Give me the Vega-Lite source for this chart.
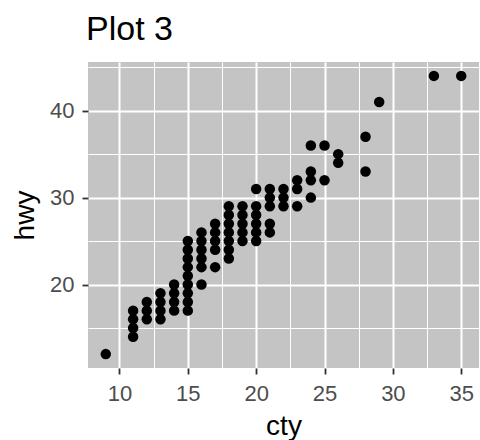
{
  "$schema": "https://vega.github.io/schema/vega-lite/v6.json",
  "width": 391,
  "height": 306,
  "autosize": "none",
  "padding": {"left": 88, "top": 62, "right": 1, "bottom": 72},
  "background": "white",
  "title": {"text": "Plot 3", "anchor": "start", "frame": "group", "font": "Liberation Sans", "fontSize": 34, "fontWeight": "normal", "color": "black", "baseline": "bottom", "offset": 16, "dy": 35, "dx": -2},
  "config": {"view": {"fill": "#C4C4C4", "stroke": null}},
  "data": {"values": [
    {"cty": 9, "hwy": 12},
    {"cty": 11, "hwy": 14}, {"cty": 11, "hwy": 15}, {"cty": 11, "hwy": 16}, {"cty": 11, "hwy": 17},
    {"cty": 12, "hwy": 16}, {"cty": 12, "hwy": 17}, {"cty": 12, "hwy": 18},
    {"cty": 13, "hwy": 16}, {"cty": 13, "hwy": 17}, {"cty": 13, "hwy": 18}, {"cty": 13, "hwy": 19},
    {"cty": 14, "hwy": 17}, {"cty": 14, "hwy": 18}, {"cty": 14, "hwy": 19}, {"cty": 14, "hwy": 20},
    {"cty": 15, "hwy": 17}, {"cty": 15, "hwy": 18}, {"cty": 15, "hwy": 19}, {"cty": 15, "hwy": 20}, {"cty": 15, "hwy": 21}, {"cty": 15, "hwy": 22}, {"cty": 15, "hwy": 23}, {"cty": 15, "hwy": 24}, {"cty": 15, "hwy": 25},
    {"cty": 16, "hwy": 20}, {"cty": 16, "hwy": 22}, {"cty": 16, "hwy": 23}, {"cty": 16, "hwy": 24}, {"cty": 16, "hwy": 25}, {"cty": 16, "hwy": 26},
    {"cty": 17, "hwy": 22}, {"cty": 17, "hwy": 24}, {"cty": 17, "hwy": 25}, {"cty": 17, "hwy": 26}, {"cty": 17, "hwy": 27},
    {"cty": 18, "hwy": 23}, {"cty": 18, "hwy": 24}, {"cty": 18, "hwy": 25}, {"cty": 18, "hwy": 26}, {"cty": 18, "hwy": 27}, {"cty": 18, "hwy": 28}, {"cty": 18, "hwy": 29},
    {"cty": 19, "hwy": 25}, {"cty": 19, "hwy": 26}, {"cty": 19, "hwy": 27}, {"cty": 19, "hwy": 28}, {"cty": 19, "hwy": 29},
    {"cty": 20, "hwy": 25}, {"cty": 20, "hwy": 26}, {"cty": 20, "hwy": 27}, {"cty": 20, "hwy": 28}, {"cty": 20, "hwy": 29}, {"cty": 20, "hwy": 31},
    {"cty": 21, "hwy": 26}, {"cty": 21, "hwy": 27}, {"cty": 21, "hwy": 29}, {"cty": 21, "hwy": 30}, {"cty": 21, "hwy": 31},
    {"cty": 22, "hwy": 29}, {"cty": 22, "hwy": 30}, {"cty": 22, "hwy": 31},
    {"cty": 23, "hwy": 29}, {"cty": 23, "hwy": 31}, {"cty": 23, "hwy": 32},
    {"cty": 24, "hwy": 30}, {"cty": 24, "hwy": 32}, {"cty": 24, "hwy": 33}, {"cty": 24, "hwy": 36},
    {"cty": 25, "hwy": 32}, {"cty": 25, "hwy": 36},
    {"cty": 26, "hwy": 34}, {"cty": 26, "hwy": 35},
    {"cty": 28, "hwy": 33}, {"cty": 28, "hwy": 37},
    {"cty": 29, "hwy": 41},
    {"cty": 33, "hwy": 44},
    {"cty": 35, "hwy": 44}
  ]},
  "layer": [
    {
      "mark": {"type": "point", "opacity": 0},
      "encoding": {
        "x": {"field": "cty", "type": "quantitative", "scale": {"domain": [7.7, 36.3], "nice": false, "zero": false},
              "axis": {"orient": "bottom", "grid": true, "gridColor": "white", "gridWidth": 1, "values": [7.5, 12.5, 17.5, 22.5, 27.5, 32.5], "labels": false, "ticks": false, "domain": false, "title": null}},
        "y": {"field": "hwy", "type": "quantitative", "scale": {"domain": [10.4, 45.6], "nice": false, "zero": false},
              "axis": {"orient": "left", "grid": true, "gridColor": "white", "gridWidth": 1, "values": [15, 25, 35, 45], "labels": false, "ticks": false, "domain": false, "title": null}}
      }
    },
    {
      "mark": {"type": "circle", "size": 110, "color": "black", "opacity": 1},
      "encoding": {
        "x": {"field": "cty", "type": "quantitative", "scale": {"domain": [7.7, 36.3], "nice": false, "zero": false},
              "axis": {"orient": "bottom", "grid": true, "gridColor": "white", "gridWidth": 2, "values": [10, 15, 20, 25, 30, 35], "domain": false,
                       "tickColor": "#333333", "tickSize": 6, "tickWidth": 1.8, "labelPadding": 9, "labelFont": "Liberation Sans", "labelFontSize": 22, "labelColor": "#4D4D4D",
                       "title": "cty", "titleFont": "Liberation Sans", "titleFontSize": 28, "titleFontWeight": "normal", "titleColor": "black", "titlePadding": 8}},
        "y": {"field": "hwy", "type": "quantitative", "scale": {"domain": [10.4, 45.6], "nice": false, "zero": false},
              "axis": {"orient": "left", "grid": true, "gridColor": "white", "gridWidth": 2, "values": [20, 30, 40], "domain": false,
                       "tickColor": "#333333", "tickSize": 6, "tickWidth": 1.8, "labelPadding": 8, "labelFont": "Liberation Sans", "labelFontSize": 22, "labelColor": "#4D4D4D",
                       "title": "hwy", "titleFont": "Liberation Sans", "titleFontSize": 28, "titleFontWeight": "normal", "titleColor": "black", "titlePadding": 10}}
      }
    }
  ],
  "resolve": {"axis": {"x": "independent", "y": "independent"}}
}
